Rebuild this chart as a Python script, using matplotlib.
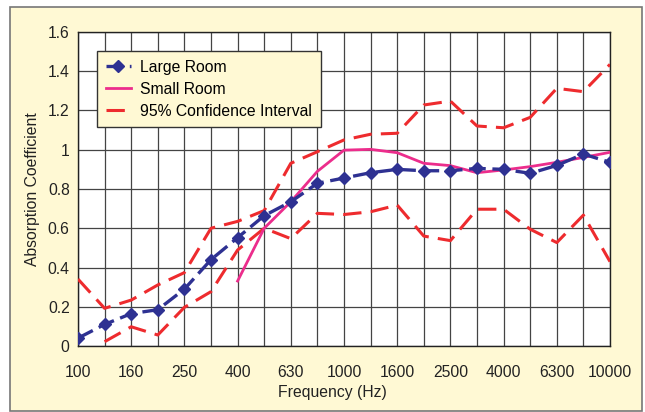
import matplotlib
matplotlib.use("Agg")
import matplotlib.pyplot as plt
from matplotlib.patches import Rectangle
import numpy as np

plt.rcParams['font.family'] = ['Liberation Sans', 'DejaVu Sans']

bands = ["100", "125", "160", "200", "250", "315", "400", "500", "630", "800", "1000",
         "1250", "1600", "2000", "2500", "3150", "4000", "5000", "6300", "8000", "10000"]

large_room = [0.04, 0.11, 0.165, 0.185, 0.29, 0.44, 0.552, 0.664, 0.735, 0.829, 0.856,
              0.883, 0.900, 0.893, 0.893, 0.905, 0.900, 0.880, 0.920, 0.978, 0.936]
small_room = [None, None, None, None, None, None, 0.331, 0.60, 0.735, 0.89, 0.998,
              1.002, 0.985, 0.931, 0.919, 0.883, 0.897, 0.914, 0.936, 0.961, 0.987]
ci_upper = [0.341, 0.192, 0.234, 0.311, 0.374, 0.60, 0.635, 0.69, 0.931, 0.99, 1.05,
            1.079, 1.084, 1.228, 1.248, 1.121, 1.112, 1.165, 1.313, 1.296, 1.435]
ci_lower = [None, 0.022, 0.098, 0.056, 0.197, 0.277, 0.489, 0.60, 0.547, 0.676, 0.670,
            0.684, 0.718, 0.56, 0.537, 0.697, 0.697, 0.595, 0.527, 0.667, 0.43]

cream = "#FFF9D4"
navy = "#2E3192"
pink = "#EC2D8C"
red = "#EE2B2E"
fs = 11.3

def arr(v):
    return np.array([np.nan if a is None else a for a in v], dtype=float)

fig = plt.figure(figsize=(6.45, 4.12), dpi=100, facecolor="white")
fig.patches.append(Rectangle((10/645, 1/412), 632/645, 404/412, transform=fig.transFigure,
                             facecolor=cream, edgecolor="#777777", lw=1.2, zorder=-1))
ax = fig.add_axes([78/645, 1-346/412, 532/645, 314/412])
ax.set_facecolor("white")

x = np.arange(len(bands))
ax.plot(x, arr(ci_upper), color=red, lw=2.2, dashes=(6, 3), label="95% Confidence Interval", zorder=3)
ax.plot(x, arr(ci_lower), color=red, lw=2.2, dashes=(6, 3), zorder=3)
ax.plot(x, arr(small_room), color=pink, lw=2.0, label="Small Room", zorder=4)
ax.plot(x, arr(large_room), color=navy, lw=2.4, dashes=(5, 2), marker="D", ms=6.5,
        label="Large Room", zorder=5)

ax.set_xlim(0, 20)
ax.set_ylim(0, 1.6)
ax.set_xticks(x)
ax.set_xticklabels([b if i % 2 == 0 else "" for i, b in enumerate(bands)])
ax.set_yticks(np.arange(0, 1.61, 0.2))
ax.set_yticklabels(["0", "0.2", "0.4", "0.6", "0.8", "1", "1.2", "1.4", "1.6"])
ax.tick_params(length=0, labelsize=fs, colors="#222222")
ax.tick_params(axis="x", pad=14)
ax.tick_params(axis="y", pad=6)
ax.grid(True, color="#444444", lw=0.9)
ax.set_axisbelow(True)
for s in ax.spines.values():
    s.set_color("#222222")
    s.set_linewidth(1.0)

ax.set_xlabel("Frequency (Hz)", fontsize=fs, color="#222222")
ax.xaxis.set_label_coords((332-78)/532, -(385-346)/314)
ax.set_ylabel("Absorption Coefficient", fontsize=fs, color="#222222")
ax.yaxis.set_label_coords(-(78-40)/532, 0.5)

h, l = ax.get_legend_handles_labels()
order = [2, 1, 0]
leg = ax.legend([h[i] for i in order], [l[i] for i in order], loc="upper left",
                bbox_to_anchor=((97-78)/532, (346-51)/314), borderaxespad=0,
                fancybox=False, facecolor=cream, edgecolor="#333333", framealpha=1,
                fontsize=fs, handlelength=1.6, handletextpad=0.6, labelspacing=0.45,
                borderpad=0.55)
leg.get_frame().set_linewidth(1.0)

fig.savefig("out.png", dpi=100, facecolor=fig.get_facecolor())
